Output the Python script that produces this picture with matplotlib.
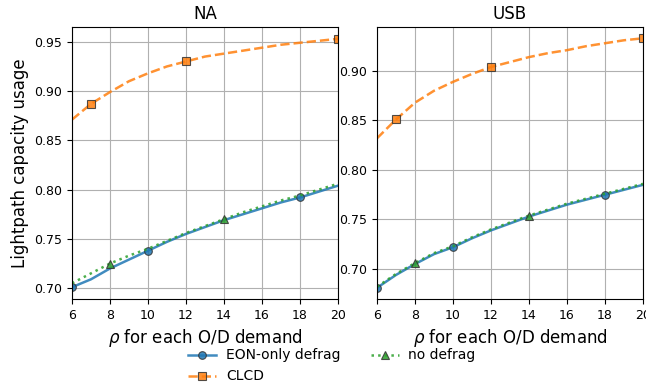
import matplotlib.pyplot as plt

rho = [6, 7, 8, 9, 10, 11, 12, 13, 14, 15, 16, 17, 18, 19, 20]

# NA network
na_eon = [0.701, 0.709, 0.720, 0.729, 0.738, 0.747, 0.755, 0.762, 0.769, 0.775, 0.781, 0.787, 0.792, 0.798, 0.804]
na_clcd = [0.871, 0.887, 0.899, 0.910, 0.918, 0.925, 0.930, 0.935, 0.938, 0.941, 0.944, 0.947, 0.949, 0.951, 0.953]
na_none = [0.705, 0.715, 0.725, 0.733, 0.740, 0.748, 0.756, 0.763, 0.770, 0.777, 0.783, 0.789, 0.794, 0.800, 0.806]

# USB network
usb_eon = [0.681, 0.694, 0.705, 0.715, 0.722, 0.731, 0.739, 0.746, 0.753, 0.759, 0.765, 0.770, 0.775, 0.780, 0.785]
usb_clcd = [0.832, 0.851, 0.868, 0.880, 0.889, 0.897, 0.904, 0.909, 0.914, 0.918, 0.921, 0.925, 0.928, 0.931, 0.933]
usb_none = [0.682, 0.695, 0.706, 0.716, 0.723, 0.732, 0.740, 0.747, 0.754, 0.760, 0.766, 0.771, 0.776, 0.781, 0.786]

titles = ["NA", "USB"]
ylims = [(0.689, 0.965), (0.6697, 0.9444)]
series = [(na_eon, na_clcd, na_none), (usb_eon, usb_clcd, usb_none)]

fig, axes = plt.subplots(1, 2, figsize=(6.46, 3.88), dpi=100)
fig.subplots_adjust(left=72 / 646, right=643 / 646, top=1 - 27 / 388,
                    bottom=1 - 299 / 388, wspace=39 / 266)

style = dict(lw=1.8, ms=5.5, mec="#333333", mew=0.8, alpha=0.85)
for ax, title, ylim, (eon, clcd, none) in zip(axes, titles, ylims, series):
    ax.plot(rho, eon, "-o", color="#1f77b4", markevery=[0, 4, 12],
            label="EON-only defrag", **style)
    ax.plot(rho, clcd, "--s", color="#ff7f0e", markevery=[1, 6, 14],
            label="CLCD", **style)
    ax.plot(rho, none, ":^", color="#2ca02c", markevery=[2, 8],
            label="no defrag", **style)
    ax.set_xlim(6, 20)
    ax.set_ylim(*ylim)
    ax.set_xticks(range(6, 21, 2))
    ax.grid(True, color="#b0b0b0", lw=0.8)
    ax.set_title(title, fontsize=12)
    ax.set_xlabel(r"$\rho$ for each O/D demand", fontsize=12)
    ax.tick_params(labelsize=9)

axes[0].set_ylabel("Lightpath capacity usage", fontsize=12)

h, l = axes[0].get_legend_handles_labels()
fig.legend(h, l, ncol=2, loc="upper center", bbox_to_anchor=(0.514, 1 - 336 / 388),
           frameon=False, fontsize=10, columnspacing=2.2, handletextpad=0.7,
           handlelength=2.0, labelspacing=0.5)

fig.savefig("out.png")
